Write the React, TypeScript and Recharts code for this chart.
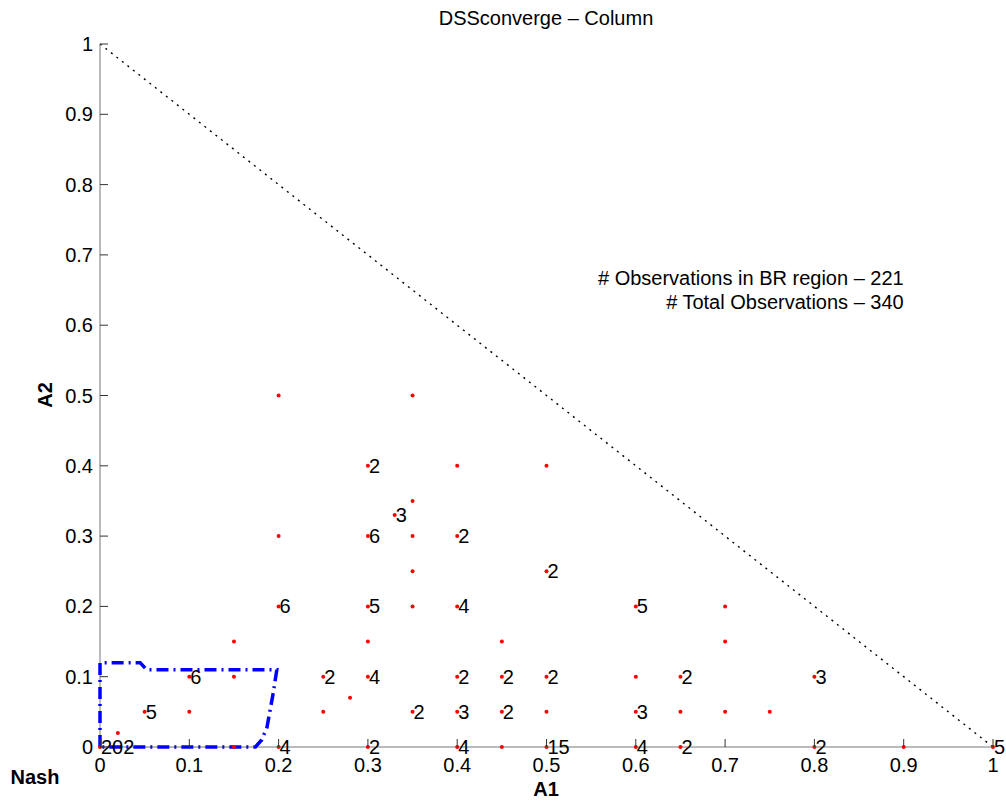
import React from 'react';
import { ScatterChart, Scatter, XAxis, YAxis, ReferenceLine } from 'recharts';

// Observations: A1 value, A2 value, count label ('' = single observation)
const obsA1 = [0, 0.02, 0.05, 0.1, 0.1, 0.15, 0.15, 0.15, 0.2, 0.2, 0.2, 0.2, 0.25, 0.25, 0.28, 0.3, 0.3, 0.3, 0.3, 0.3, 0.3, 0.33, 0.35, 0.35, 0.35, 0.35, 0.35, 0.35, 0.4, 0.4, 0.4, 0.4, 0.4, 0.4, 0.45, 0.45, 0.45, 0.45, 0.5, 0.5, 0.5, 0.5, 0.5, 0.6, 0.6, 0.6, 0.6, 0.65, 0.65, 0.65, 0.7, 0.7, 0.7, 0.75, 0.8, 0.8, 0.9, 1];
const obsA2 = [0, 0.02, 0.05, 0.1, 0.05, 0.15, 0.1, 0, 0.5, 0.3, 0.2, 0, 0.1, 0.05, 0.07, 0.4, 0.3, 0.2, 0.15, 0.1, 0, 0.33, 0.5, 0.35, 0.3, 0.25, 0.2, 0.05, 0.4, 0.3, 0.2, 0.1, 0.05, 0, 0.15, 0.1, 0.05, 0, 0.4, 0.25, 0.1, 0.05, 0, 0.2, 0.1, 0.05, 0, 0.1, 0.05, 0, 0.2, 0.15, 0.05, 0.05, 0.1, 0, 0, 0];
const obsCount = ['202', '', '5', '6', '', '', '', '', '', '', '6', '4', '2', '', '', '2', '6', '5', '', '4', '2', '3', '', '', '', '', '', '2', '', '2', '4', '2', '3', '4', '', '2', '2', '', '', '2', '2', '', '15', '5', '', '3', '4', '2', '', '2', '', '', '', '', '3', '2', '', '5'];

// Best-response (BR) region boundary
const brA1 = [0, 0, 0.045, 0.052, 0.198, 0.194, 0.187, 0.181, 0.174, 0];
const brA2 = [0, 0.12, 0.12, 0.11, 0.11, 0.077, 0.028, 0.01, 0, 0];

// Annotation text
const noteLines = ['# Observations in BR region \u2013 221', '# Total Observations \u2013 340'];
const noteA1 = [0.9, 0.9];
const noteA2 = [0.667, 0.633];

const axisTicks = [0, 0.1, 0.2, 0.3, 0.4, 0.5, 0.6, 0.7, 0.8, 0.9, 1];

const obsData = obsA1.map((a1, i) => ({ a1, a2: obsA2[i], label: obsCount[i] }));
const brData = brA1.map((a1, i) => ({ a1, a2: brA2[i] }));
const noteData = noteLines.map((text, i) => ({ a1: noteA1[i], a2: noteA2[i], text }));

const FONT = '"Liberation Sans", Arial, Helvetica, sans-serif';
const FS = 20;

const XTick = (props: any) => {
  const { x, y, payload } = props;
  return (
    <g>
      <line x1={x} y1={y} x2={x} y2={y - 8} stroke="#333" strokeWidth={1} />
      <text x={x} y={y + 25} textAnchor="middle" fontSize={FS} fontFamily={FONT} fill="#000">
        {String(payload.value)}
      </text>
    </g>
  );
};

const YTick = (props: any) => {
  const { x, y, payload } = props;
  return (
    <g>
      <line x1={x} y1={y} x2={x + 8} y2={y} stroke="#333" strokeWidth={1} />
      <text x={x - 7} y={y + 7} textAnchor="end" fontSize={FS} fontFamily={FONT} fill="#000">
        {String(payload.value)}
      </text>
    </g>
  );
};

const ObsShape = (props: any) => {
  const { cx, cy, payload } = props;
  return (
    <g>
      <circle cx={cx} cy={cy} r={2} fill="#ff0000" />
      {payload.label ? (
        <text x={cx + 1} y={cy + 7} fontSize={FS} fontFamily={FONT} fill="#000">
          {payload.label}
        </text>
      ) : null}
    </g>
  );
};

const NoteShape = (props: any) => {
  const { cx, cy, payload } = props;
  return (
    <text x={cx} y={cy + 7} textAnchor="end" fontSize={FS} fontFamily={FONT} fill="#000">
      {payload.text}
    </text>
  );
};

const EmptyShape = () => <g />;

export default function App() {
  return (
    <div style={{ position: 'absolute', left: 0, top: 0, width: 1006, height: 801, background: '#fff', fontFamily: FONT }}>
      <ScatterChart width={1006} height={801} margin={{ top: 44, right: 13, bottom: 24, left: 40 }}>
        <XAxis
          type="number"
          dataKey="a1"
          domain={[0, 1]}
          ticks={axisTicks}
          height={30}
          tickSize={0}
          tickMargin={0}
          tickLine={false}
          axisLine={{ stroke: '#777', strokeWidth: 1 }}
          tick={<XTick />}
          interval={0}
        />
        <YAxis
          type="number"
          dataKey="a2"
          domain={[0, 1]}
          ticks={axisTicks}
          width={60}
          tickSize={0}
          tickMargin={0}
          tickLine={false}
          axisLine={{ stroke: '#777', strokeWidth: 1 }}
          tick={<YTick />}
          interval={0}
        />
        <ReferenceLine
          segment={[{ x: 0, y: 1 }, { x: 1, y: 0 }]}
          stroke="#000"
          strokeWidth={1.4}
          strokeDasharray="2 5"
        />
        <Scatter
          data={brData}
          line={{ stroke: '#0000ff', strokeWidth: 3.5, strokeDasharray: '12 5 2 5' }}
          lineType="joint"
          shape={<EmptyShape />}
          isAnimationActive={false}
        />
        <Scatter data={obsData} shape={<ObsShape />} isAnimationActive={false} />
        <Scatter data={noteData} shape={<NoteShape />} isAnimationActive={false} />
      </ScatterChart>
      <svg width={1006} height={801} style={{ position: 'absolute', left: 0, top: 0, pointerEvents: 'none' }}>
        <text x={546} y={25} textAnchor="middle" fontSize={FS} fontFamily={FONT} fill="#000">
          DSSconverge {'\u2013'} Column
        </text>
        <text x={546} y={796} textAnchor="middle" fontSize={FS} fontWeight="bold" fontFamily={FONT} fill="#000">
          A1
        </text>
        <text x={35} y={784} textAnchor="middle" fontSize={FS} fontWeight="bold" fontFamily={FONT} fill="#000">
          Nash
        </text>
        <text
          x={52}
          y={395}
          textAnchor="middle"
          fontSize={FS}
          fontWeight="bold"
          fontFamily={FONT}
          fill="#000"
          transform="rotate(-90 52 395)"
        >
          A2
        </text>
      </svg>
    </div>
  );
}
